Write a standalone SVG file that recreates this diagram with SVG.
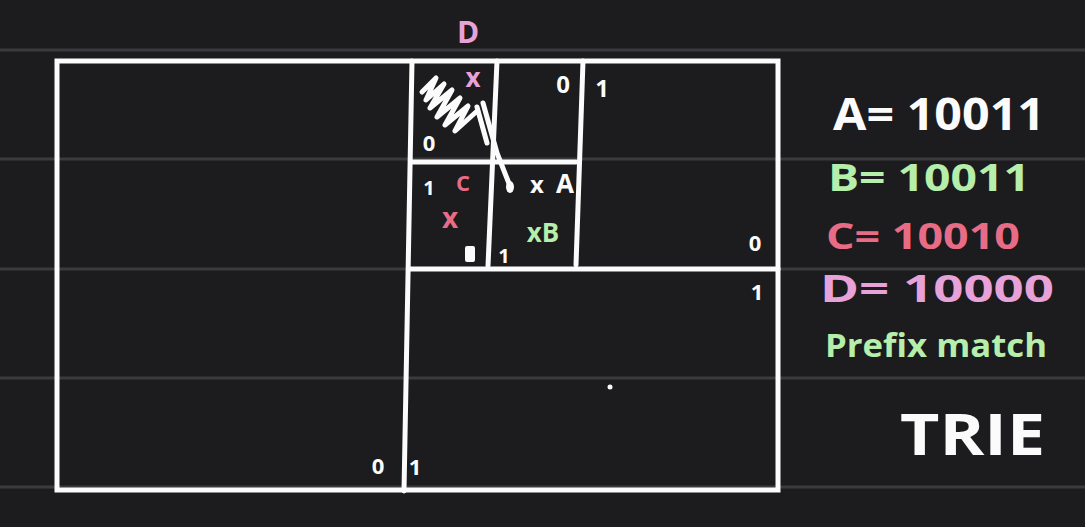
<svg xmlns="http://www.w3.org/2000/svg" width="1085" height="527" viewBox="0 0 1085 527">
<style>
.bg{fill:#1c1b1d}
.rule{stroke:#3b3a3d;stroke-width:3}
.ln{stroke:#fbfbfb;stroke-width:5;stroke-linecap:round;fill:none}
.w{fill:#fbfbfb}
.t{font-family:"Open Sans","DejaVu Sans",sans-serif;font-weight:700}
.g{fill:#b6eeab}
.r{fill:#e96c86}
.p{fill:#e7a2da}
</style>
<rect class="bg" x="0" y="0" width="1085" height="527"/>
<g id="rules">
<line class="rule" x1="0" y1="50" x2="1085" y2="50"/>
<line class="rule" x1="0" y1="159" x2="1085" y2="159"/>
<line class="rule" x1="0" y1="269" x2="1085" y2="269"/>
<line class="rule" x1="0" y1="378" x2="1085" y2="378"/>
<line class="rule" x1="0" y1="487" x2="1085" y2="487"/>
</g>
<g id="connectors">
<rect class="ln" x="57" y="61" width="721" height="429"/>
<line class="ln" x1="412" y1="61" x2="404" y2="491"/>
<line class="ln" x1="410" y1="269" x2="778" y2="269"/>
<line class="ln" x1="583" y1="61" x2="576" y2="265"/>
<line class="ln" x1="497" y1="61" x2="488" y2="266"/>
<line class="ln" x1="412" y1="162" x2="576" y2="162"/>
</g>
<g id="scribble">
<path class="ln" stroke-width="7" stroke-linejoin="round" d="M422,92 L436,78 L426,100 L444,84 L430,108 L452,90 L437,117 L460,98 L445,125 L468,106 L455,131 L476,112"/>
<path class="ln" d="M477,107 L487,143"/>
<path class="ln" d="M483,103 L497,153 L510,186"/>
<ellipse class="w" cx="510" cy="187" rx="4" ry="6"/>
</g>
<g id="labels">
<text class="t p" x="468" y="43" font-size="30" text-anchor="middle">D</text>
<text class="t p" x="473" y="87" font-size="26" text-anchor="middle">x</text>
<text class="t w" x="563" y="93" font-size="24" text-anchor="middle">0</text>
<text class="t w" x="602" y="97" font-size="24" text-anchor="middle">1</text>
<text class="t w" x="429" y="151" font-size="22" text-anchor="middle">0</text>
<text class="t w" x="429" y="195" font-size="20" text-anchor="middle">1</text>
<text class="t r" x="463" y="191" font-size="22" text-anchor="middle">C</text>
<text class="t r" x="450" y="228" font-size="28" text-anchor="middle">x</text>
<rect class="w" x="465" y="246" width="10" height="16" rx="2"/>
<text class="t w" x="504" y="263" font-size="20" text-anchor="middle">1</text>
<text class="t w" x="537" y="193" font-size="24" text-anchor="middle">x</text>
<text class="t w" x="565" y="193" font-size="26" text-anchor="middle">A</text>
<text class="t g" x="543" y="242" font-size="26" text-anchor="middle">xB</text>
<text class="t w" x="755" y="251" font-size="22" text-anchor="middle">0</text>
<text class="t w" x="757" y="300" font-size="22" text-anchor="middle">1</text>
<text class="t w" x="378" y="474" font-size="22" text-anchor="middle">0</text>
<text class="t w" x="415" y="475" font-size="22" text-anchor="middle">1</text>
<circle class="w" cx="610" cy="387" r="2.5"/>
</g>
<g id="legend">
<text class="t w" x="833" y="130" font-size="44" textLength="212" lengthAdjust="spacingAndGlyphs">A= 10011</text>
<text class="t g" x="828" y="191" font-size="38" textLength="202" lengthAdjust="spacingAndGlyphs">B= 10011</text>
<text class="t r" x="826" y="249" font-size="36" textLength="194" lengthAdjust="spacingAndGlyphs">C= 10010</text>
<text class="t p" x="820" y="302" font-size="38" textLength="234" lengthAdjust="spacingAndGlyphs">D= 10000</text>
<text class="t g" x="825" y="357" font-size="32" textLength="222" lengthAdjust="spacingAndGlyphs">Prefix match</text>
<text class="t w" x="900" y="455" font-size="58" font-weight="600" textLength="145" lengthAdjust="spacingAndGlyphs">TRIE</text>
</g>
</svg>
